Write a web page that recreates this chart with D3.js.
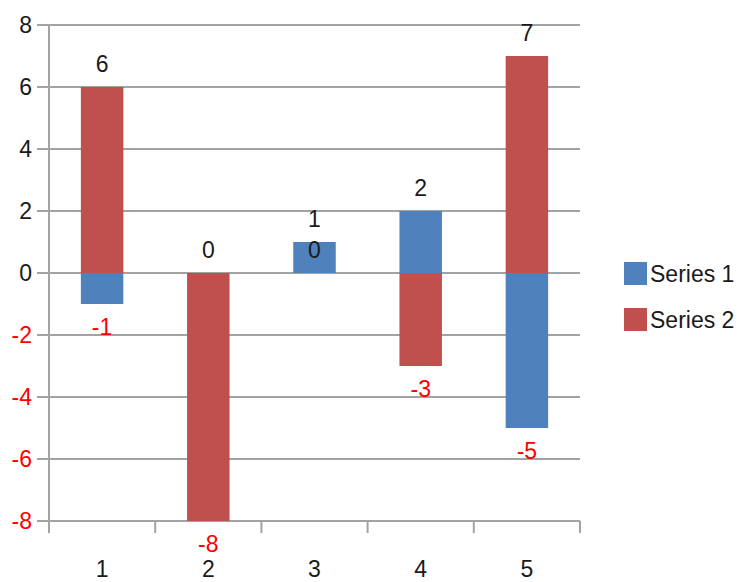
<!DOCTYPE html>
<html><head><meta charset="utf-8">
<script src="https://cdn.jsdelivr.net/npm/d3@7"></script>
<style>body{margin:0;background:#fff}svg{display:block}text{font-family:"Liberation Sans",Arial,sans-serif}</style>
</head><body>
<svg id="c" width="741" height="582"></svg>
<script>
const categories = ["1","2","3","4","5"];
const series1 = [-1, 0, 1, 2, -5];
const series2 = [6, -8, 0, -3, 7];
const seriesNames = ["Series 1","Series 2"];
const colors = ["#4f81bd","#c0504d"];
const yTicks = [-8,-6,-4,-2,0,2,4,6,8];

const svg = d3.select("#c");
const L = 49, R = 580, T = 25, B = 521;
const FS = 23;
const x = d3.scaleBand().domain(categories).range([L, R]).paddingInner(0.6).paddingOuter(0.3);
const xb = d3.scaleBand().domain(categories).range([L, R]);
const y = d3.scaleLinear().domain([-8, 8]).range([B, T]);
const grid = "#a3a3a3";

// gridlines
svg.append("g").selectAll("line").data(yTicks).join("line")
  .attr("x1", L - 12).attr("x2", R).attr("y1", d => y(d)).attr("y2", d => y(d))
  .attr("stroke", grid).attr("stroke-width", 2);
// y axis line
svg.append("line").attr("x1", L).attr("x2", L).attr("y1", T).attr("y2", B + 12)
  .attr("stroke", grid).attr("stroke-width", 2);
// y tick labels
svg.append("g").selectAll("text").data(yTicks).join("text")
  .attr("x", L - 17).attr("y", d => y(d)).attr("dy", "0.36em")
  .attr("text-anchor", "end").attr("font-size", FS)
  .attr("fill", d => d < 0 ? "#ff0000" : "#1a1a1a").text(d => d);
// x ticks
const bounds = categories.map(c => xb(c)).concat([R]);
svg.append("g").selectAll("line").data(bounds).join("line")
  .attr("x1", d => d).attr("x2", d => d).attr("y1", B).attr("y2", B + 12)
  .attr("stroke", grid).attr("stroke-width", 2);
svg.append("g").selectAll("text").data(categories).join("text")
  .attr("x", d => xb(d) + xb.bandwidth() / 2).attr("y", 577)
  .attr("text-anchor", "middle").attr("font-size", FS).attr("fill", "#1a1a1a").text(d => d);

// stacked bars
const data = categories.map((c, i) => ({cat: c, s: [series1[i], series2[i]]}));
const segs = [], labels = [];
data.forEach(d => {
  let yp = 0, yn = 0;
  const used = [];
  d.s.forEach((v, k) => {
    let y0, y1;
    if (v >= 0) { y0 = yp; y1 = yp + v; yp = y1; } else { y1 = yn; y0 = yn + v; yn = y0; }
    segs.push({cat: d.cat, k, y0, y1});
    let ly, col;
    if (v >= 0) {
      ly = y(y1) - 15; col = "#1a1a1a";
      if (used.some(u => Math.abs(u - ly) < 10)) ly = y(y1) + 16;
    } else { ly = y(y0) + 31; col = "#ff0000"; }
    used.push(ly);
    labels.push({cat: d.cat, ly, col, v});
  });
});
svg.append("g").selectAll("rect").data(segs).join("rect")
  .attr("x", d => x(d.cat)).attr("width", x.bandwidth())
  .attr("y", d => y(d.y1)).attr("height", d => y(d.y0) - y(d.y1))
  .attr("fill", d => colors[d.k]);
svg.append("g").selectAll("text").data(labels).join("text")
  .attr("x", d => x(d.cat) + x.bandwidth() / 2).attr("y", d => d.ly)
  .attr("text-anchor", "middle").attr("font-size", FS).attr("fill", d => d.col).text(d => d.v);

// legend
const lg = svg.append("g").selectAll("g").data(seriesNames).join("g")
  .attr("transform", (d, i) => `translate(624,${262 + i * 46})`);
lg.append("rect").attr("width", 23).attr("height", 23).attr("fill", (d, i) => colors[i]);
lg.append("text").attr("x", 26).attr("y", 20).attr("font-size", FS).attr("fill", "#1a1a1a").text(d => d);
</script>
</body></html>
